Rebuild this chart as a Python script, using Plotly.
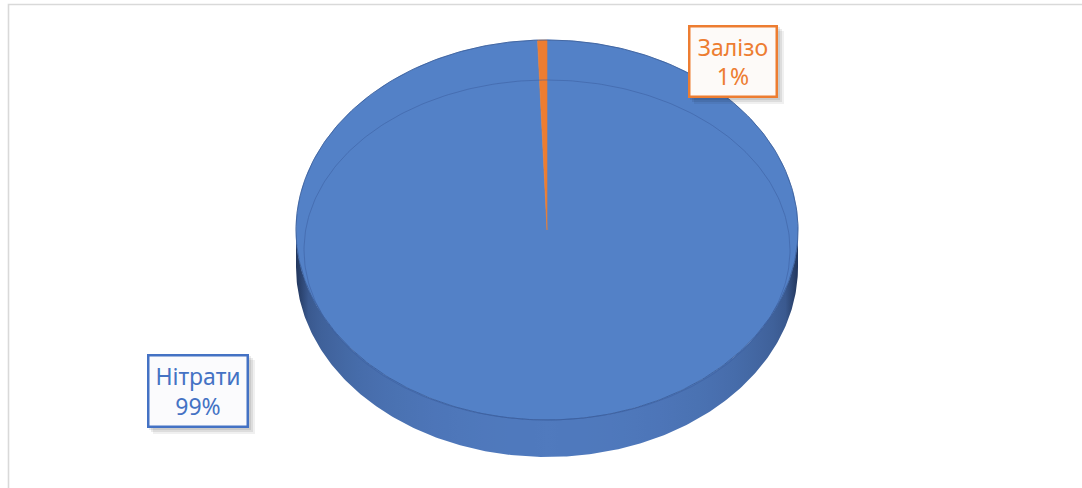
import numpy as np
import plotly.graph_objects as go

# ---- data ----
labels = ["Нітрати", "Залізо"]
values = [99.4, 0.6]
label_colors = ["#4472C4", "#ED7D31"]
face_colors = ["#5381C7", "#ED7D31"]

# ---- geometry (pixel space, y downward) ----
W, H = 1082, 488
cx, cy, rx, ry = 547.0, 230.0, 251.0, 190.0
depth = 37.0


def pt(theta_deg, dy=0.0, r_x=rx, r_y=ry, c_y=cy):
    t = np.radians(theta_deg)
    return cx + r_x * np.sin(t), c_y - r_y * np.cos(t) + dy


fig = go.Figure()

# side of the cylinder (front half), horizontal gradient shading
dark = np.array([34, 54, 92])
mid = np.array([80, 122, 190])
stops = []
for s in np.linspace(0, 1, 41):
    u = 2 * s - 1
    t = max(0.0, 1 - u * u) ** 0.5
    t = t ** 0.55
    c = dark + (mid - dark) * t
    stops.append([float(s), "rgb(%d,%d,%d)" % tuple(c.astype(int))])
th = np.linspace(90, 270, 241)
xt, yt = pt(th)
xb, yb = pt(th[::-1], dy=depth)
fig.add_trace(go.Scatter(
    x=np.concatenate([xt, xb]), y=np.concatenate([yt, yb]),
    fill="toself", mode="lines", line=dict(width=0),
    fillgradient=dict(type="horizontal", colorscale=stops,
                      start=cx - rx, stop=cx + rx),
    hoverinfo="skip", showlegend=False))

# top face wedges
total = sum(values)
start = 0.0
for lab, v, fc in zip(labels, values, face_colors):
    span = 360.0 * v / total
    th = np.linspace(start, start + span, max(3, int(span * 2)))
    xa, ya = pt(th)
    fig.add_trace(go.Scatter(
        x=np.concatenate([[cx], xa, [cx]]), y=np.concatenate([[cy], ya, [cy]]),
        fill="toself", fillcolor=fc, mode="lines",
        line=dict(color=fc, width=0.6), name=lab, hoverinfo="skip", showlegend=False))
    start += span

# outline of top face and bevel line
th = np.linspace(0, 360, 361)
xo, yo = pt(th)
fig.add_trace(go.Scatter(x=xo, y=yo, mode="lines",
                         line=dict(color="rgba(55,90,150,0.8)", width=1),
                         hoverinfo="skip", showlegend=False))
xi, yi = pt(th, r_x=243, r_y=170, c_y=250)
fig.add_trace(go.Scatter(x=xi, y=yi, mode="lines",
                         line=dict(color="rgba(60,95,160,0.55)", width=1),
                         hoverinfo="skip", showlegend=False))

# labels
pcts = [int(np.floor(100 * v / total + 0.5)) for v in values]
boxes = [(198, 391, 102, 74), (733, 61.5, 90, 73)]
shapes = []
annotations = []
for lab, p, col, (bx, by, bw, bh) in zip(labels, pcts, label_colors, boxes):
    for off, op in [(6, 0.06), (4, 0.08), (2, 0.08)]:
        shapes.append(dict(type="rect", xref="x", yref="y",
                           x0=bx - bw / 2 + off, x1=bx + bw / 2 + off,
                           y0=by - bh / 2 + off, y1=by + bh / 2 + off,
                           fillcolor="rgba(0,0,0,%g)" % op, line=dict(width=0),
                           layer="above"))
    annotations.append(dict(
        x=bx, y=by, xref="x", yref="y", showarrow=False,
        text="%s<br>%d%%" % (lab, p),
        font=dict(family="Noto Sans, Open Sans, sans-serif", size=23, color=col),
        bgcolor="#fbfbfd" if col == "#4472C4" else "#fdfaf8",
        bordercolor=col, borderwidth=2.5, borderpad=0,
        width=bw - 5, height=bh - 5, align="center", valign="middle"))

# chart border (top and left)
shapes.append(dict(type="path", xref="x", yref="y",
                   path="M 8.5 %d L 8.5 4.5 L %d 4.5" % (H, W),
                   line=dict(color="#d9d9d9", width=1.6), layer="above"))

fig.update_layout(
    width=W, height=H, margin=dict(l=0, r=0, t=0, b=0),
    paper_bgcolor="white", plot_bgcolor="white",
    xaxis=dict(range=[0, W], visible=False, fixedrange=True),
    yaxis=dict(range=[H, 0], visible=False, fixedrange=True),
    shapes=shapes, annotations=annotations, showlegend=False)

fig.write_html("out.html", config=dict(displayModeBar=False),
               post_script="document.body.style.margin='0';document.body.style.overflow='hidden';")
